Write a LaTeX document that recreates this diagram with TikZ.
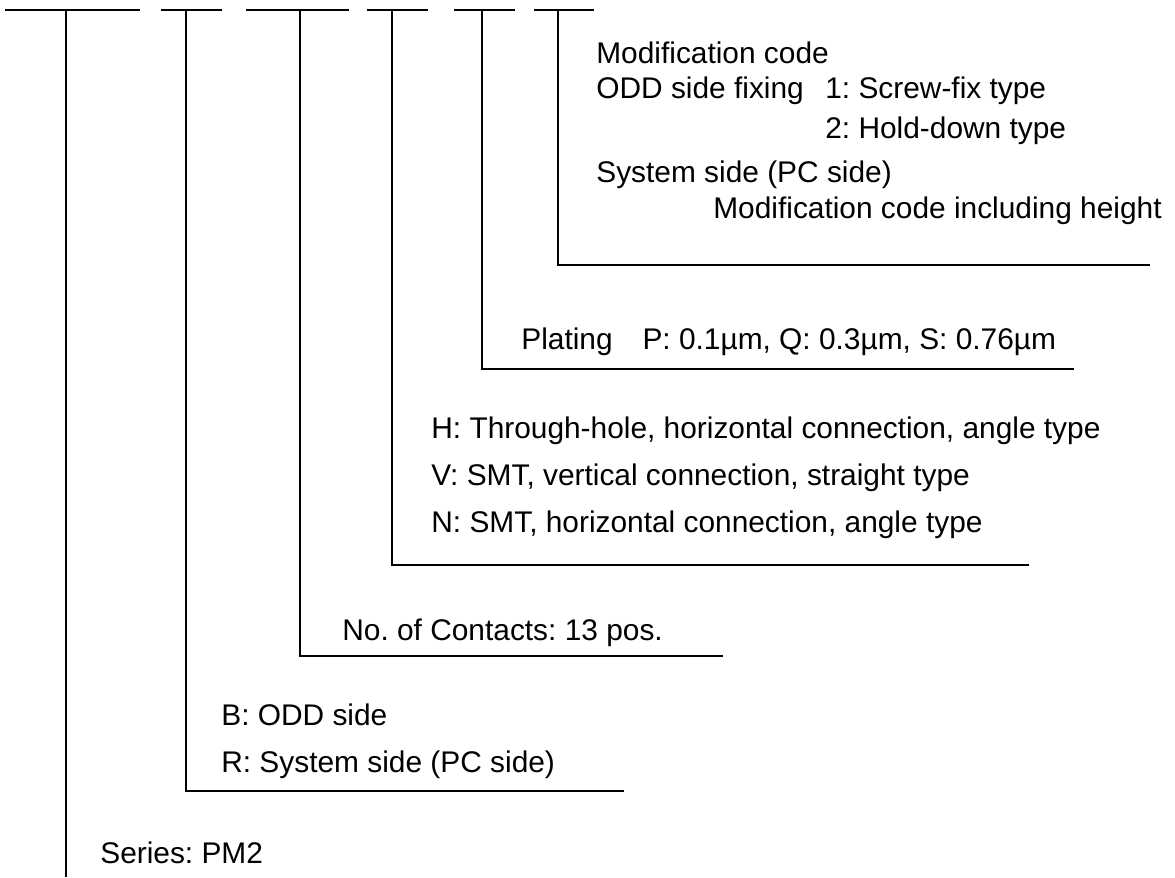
\documentclass[tikz,border=0pt]{standalone}
\usepackage{fontspec}
\setmainfont{Liberation Sans}
\usetikzlibrary{positioning}

\tikzset{
lbl/.style={anchor=base west, inner sep=0pt, font=\fontsize{17}{20}\selectfont},
lead/.style={black, line width=1.1pt}
}
\frenchspacing

\begin{document}
\begin{tikzpicture}[x=0.02cm, y=-0.02cm]
\useasboundingbox (0,0) rectangle (1175,877);

%code bars and the stems under them
\foreach \a/\m/\b/\n in {5/66/140/s1, 161/186/222/s2, 246/300/349/s3, 367/392/428/s4, 454/482/515/s5, 534/558/594/s6}
{
\draw[lead] (\a,10)--(\b,10);
\coordinate (\n) at (\m,10);
}

%ends of the leaders
\coordinate (e1) at (66,877);
\coordinate (e2) at (624,791);
\coordinate (e3) at (723,656);
\coordinate (e4) at (1029,565);
\coordinate (e5) at (1074,369);
\coordinate (e6) at (1150,265);

%leaders
\draw[lead] (s1)--(e1);
\foreach \k in {2,...,6} \draw[lead] (s\k) |- (e\k);

%modification code
\node[lbl] (mod) at (596,63) {Modification code};
\node[lbl] (odd) at (596,98) {ODD side fixing};
\node[lbl] (fixa) at (825,98) {1: Screw-fix type};
\node[lbl] (fixb) at (825,138) {2: Hold-down type};
\node[lbl] (sys) at (596,182) {System side (PC side)};
\node[lbl] (modh) at (713,218) {Modification code including height};

%plating
\node[lbl] (plat) at (521,349) {Plating\quad P: 0.1µm, Q: 0.3µm, S: 0.76µm};

%connection type
\node[lbl] (th) at (431,438) {H: Through-hole, horizontal connection, angle type};
\node[lbl] (sv) at (431,485) {V: SMT, vertical connection, straight type};
\node[lbl] (sn) at (431,532) {N: SMT, horizontal connection, angle type};

%contacts
\node[lbl] (pos) at (342,640) {No. of Contacts: 13 pos.};

%side
\node[lbl] (odds) at (221,725) {B: ODD side};
\node[lbl] (syss) at (221,772) {R: System side (PC side)};

%series
\node[lbl] (ser) at (100,863) {Series: PM2};

\end{tikzpicture}
\end{document}
